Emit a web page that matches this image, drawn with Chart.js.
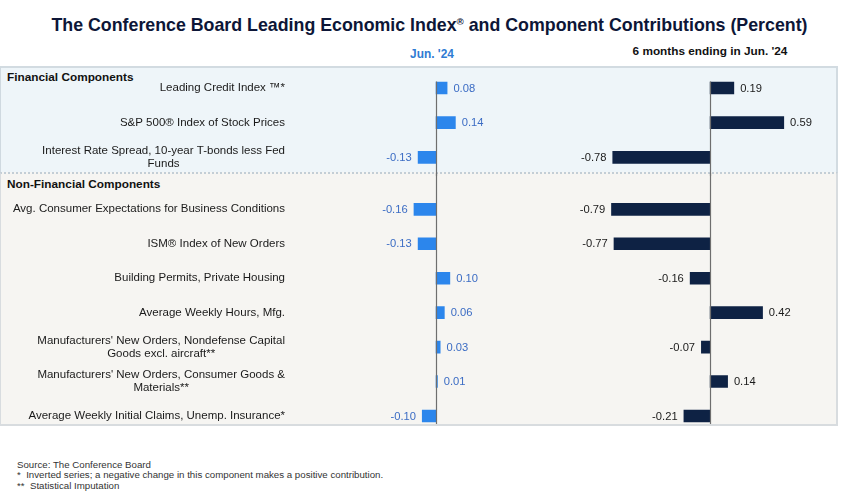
<!DOCTYPE html>
<html>
<head>
<meta charset="utf-8">
<script src="https://cdn.jsdelivr.net/npm/chart.js@4.4.1/dist/chart.umd.min.js"></script>
<style>
html,body{margin:0;padding:0;background:#fff;}
body{width:850px;height:503px;position:relative;overflow:hidden;font-family:"Liberation Sans",Arial,sans-serif;}
.abs{position:absolute;white-space:nowrap;}
#title{left:0;width:859px;top:15px;text-align:center;font-size:17.8px;font-weight:bold;line-height:20px;color:#0d1637;}
#title sup{font-size:0.55em;vertical-align:0.6em;line-height:0;}
#hJun{left:382px;width:100px;top:47px;text-align:center;font-size:11.9px;font-weight:bold;line-height:14px;color:#2f7bd3;}
#h6m{left:610px;width:200px;top:44px;text-align:center;font-size:11.8px;font-weight:bold;line-height:14px;color:#111;}
#finBand{left:0;top:66px;width:835px;height:106px;background:#eef5f9;border-top:2px solid #d2dbe1;border-left:1px solid #cfd9e0;border-right:2px solid #d2dbe1;}
#nonBand{left:0;top:173px;width:835px;height:250px;background:#f6f5f2;border-top:2px dotted #c3ced6;border-left:1px solid #d8dcdf;border-right:2px solid #d8dcdf;border-bottom:2px solid #d8dcdf;box-sizing:content-box;margin-top:-1px;}
.grp{left:7px;font-size:11.8px;font-weight:bold;line-height:14px;color:#111;}
#notes{left:17px;top:459.7px;font-size:9.7px;line-height:10.8px;color:#333;}
canvas{position:absolute;left:0;}
</style>
</head>
<body>
<div id="title" class="abs">The Conference Board Leading Economic Index<sup>®</sup> and Component Contributions (Percent)</div>
<div id="hJun" class="abs">Jun. '24</div>
<div id="h6m" class="abs">6 months ending in Jun. '24</div>
<div id="finBand" class="abs"></div>
<div id="nonBand" class="abs"></div>
<div class="abs grp" style="top:70.4px">Financial Components</div>
<div class="abs grp" style="top:177.1px">Non-Financial Components</div>
<div id="notes" class="abs">Source: The Conference Board<br>*&nbsp; Inverted series; a negative change in this component makes a positive contribution.<br>**&nbsp; Statistical Imputation</div>
<canvas id="finChart" width="850" height="110" style="top:66px;width:850px;height:110px"></canvas>
<canvas id="nonChart" width="850" height="262" style="top:173px;width:850px;height:262px"></canvas>
<script>
// ---- Data ----
const finLabels = [
  ['Leading Credit Index \u2122*'],
  ['S&P 500\u00ae Index of Stock Prices'],
  ['Interest Rate Spread, 10-year T-bonds less Fed', 'Funds']
];
const finJun = [0.08, 0.14, -0.13];
const fin6m = [0.19, 0.59, -0.78];

const nonFinLabels = [
  ['Avg. Consumer Expectations for Business Conditions'],
  ['ISM\u00ae Index of New Orders'],
  ['Building Permits, Private Housing'],
  ['Average Weekly Hours, Mfg.'],
  ["Manufacturers' New Orders, Nondefense Capital", 'Goods excl. aircraft**'],
  ["Manufacturers' New Orders, Consumer Goods &", 'Materials**'],
  ['Average Weekly Initial Claims, Unemp. Insurance*']
];
const nonFinJun = [-0.16, -0.13, 0.10, 0.06, 0.03, 0.01, -0.10];
const nonFin6m = [-0.79, -0.77, -0.16, 0.42, -0.07, 0.14, -0.21];

// ---- Styles ----
const BLUE = '#2c86ec';
const NAVY = '#0e2244';
const FONT = '"Liberation Sans", Arial, sans-serif';

const rowLabelPlugin = {
  id: 'rowLabels',
  afterDraw(chart, args, o) {
    const ctx = chart.ctx, ys = chart.scales.y;
    ctx.save();
    ctx.font = o.font;
    ctx.fillStyle = o.color;
    ctx.textAlign = 'center';
    ctx.textBaseline = 'middle';
    chart.data.labels.forEach((lab, i) => {
      const lines = Array.isArray(lab) ? lab : [lab];
      const w = Math.max(...lines.map(l => ctx.measureText(l).width));
      const cx = o.right - w / 2;
      const y0 = ys.getPixelForValue(i) - (lines.length - 1) * o.lineHeight / 2;
      lines.forEach((l, k) => ctx.fillText(l, cx, y0 + k * o.lineHeight));
    });
    ctx.restore();
  }
};

const valueLabelPlugin = {
  id: 'valueLabels',
  afterDatasetsDraw(chart, args, o) {
    const ctx = chart.ctx;
    ctx.save();
    ctx.font = o.font;
    ctx.textBaseline = 'middle';
    chart.data.datasets.forEach((ds, di) => {
      const meta = chart.getDatasetMeta(di);
      ctx.fillStyle = o.colors[di];
      meta.data.forEach((bar, i) => {
        const v = ds.data[i];
        ctx.textAlign = v >= 0 ? 'left' : 'right';
        ctx.fillText(v.toFixed(2), v >= 0 ? bar.x + o.gap : bar.x - o.gap, bar.y + 0.5);
      });
    });
    ctx.restore();
  }
};

const zeroLinePlugin = {
  id: 'zeroLine',
  afterDatasetsDraw(chart, args, o) {
    const ctx = chart.ctx;
    ctx.save();
    ctx.strokeStyle = o.color;
    ctx.lineWidth = o.width;
    ['xL', 'xR'].forEach(id => {
      const x = Math.round(chart.scales[id].getPixelForValue(0)) + 0.5;
      ctx.beginPath();
      ctx.moveTo(x, o.top);
      ctx.lineTo(x, o.bottom);
      ctx.stroke();
    });
    ctx.restore();
  }
};

function makeChart(id, labels, jun, six, pad, zl) {
  return new Chart(document.getElementById(id), {
    type: 'bar',
    data: {
      labels: labels,
      datasets: [
        { label: "Jun. '24", data: jun, xAxisID: 'xL', backgroundColor: BLUE, borderWidth: 0, barThickness: 12, grouped: false },
        { label: "6 months ending in Jun. '24", data: six, xAxisID: 'xR', backgroundColor: NAVY, borderWidth: 0, barThickness: 12, grouped: false }
      ]
    },
    options: {
      indexAxis: 'y',
      responsive: false,
      animation: false,
      layout: { padding: { left: 298, right: 40, top: pad[0], bottom: pad[1] } },
      scales: {
        y: { type: 'category', display: false, offset: true },
        xL: { type: 'linear', position: 'bottom', stack: 'panels', stackWeight: 262.2, min: -1.0, max: 0.9, display: false },
        xR: { type: 'linear', position: 'bottom', stack: 'panels', stackWeight: 249.6, min: -1.2, max: 0.8, display: false }
      },
      plugins: {
        legend: { display: false },
        tooltip: { enabled: false },
        rowLabels: { font: '11.5px ' + FONT, color: '#1a1a1a', right: 285, lineHeight: 13.4 },
        valueLabels: { font: '11.2px ' + FONT, colors: ['#3b6cc4', '#1a1a1a'], gap: 6.3 },
        zeroLine: { color: '#6e6e6e', width: 1.2, top: zl[0], bottom: zl[1] }
      }
    },
    plugins: [rowLabelPlugin, valueLabelPlugin, zeroLinePlugin]
  });
}

makeChart('finChart', finLabels, finJun, fin6m, [4.65, 1.3], [15.5, 110]);
makeChart('nonChart', nonFinLabels, nonFinJun, nonFin6m, [19.1, 1.8], [0, 251]);
</script>
</body>
</html>
